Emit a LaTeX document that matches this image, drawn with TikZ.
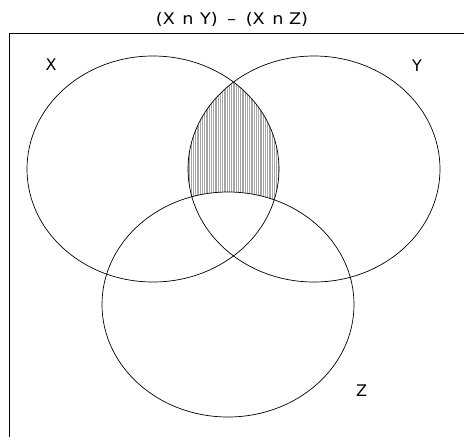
\documentclass[tikz,border=0pt]{standalone}
\usepackage{fontspec}
\setmainfont{DejaVu Sans}
\newfontfamily\titlefont[FakeStretch=1.1]{DejaVu Sans}
\begin{document}
\begin{tikzpicture}[x=1pt,y=-1pt,
  setline/.style={draw=black,line width=0.7pt},
  lbl/.style={font=\fontsize{16}{19}\selectfont,inner sep=0pt,anchor=base}]
\useasboundingbox (0,0) rectangle (464,437);
\fill[white] (0,0) rectangle (464,437);
% hatching of (X n Y) - Z
\begin{scope}
  \clip (153,169) ellipse [x radius=126, y radius=113];
  \clip (314,169) ellipse [x radius=126, y radius=113];
  \foreach \i in {186,187.8,...,282} {\draw[gray!70,line width=0.45pt] (\i,50) -- (\i,290);}
  \fill[white] (228,304.5) ellipse [x radius=126, y radius=112.5];
\end{scope}
% frame
\draw[line width=0.8pt] (9.5,437) -- (9.5,33) -- (464,33);
% sets
\draw[setline] (153,169) ellipse [x radius=126, y radius=113];
\draw[setline] (314,169) ellipse [x radius=126, y radius=113];
\draw[setline] (228,304.5) ellipse [x radius=126, y radius=112.5];
% labels
\node[lbl] (t) at (232,24.5) {\titlefont (X\hspace{2pt} n\hspace{1pt} Y)\hspace{4pt} –\hspace{4pt} (X\hspace{2pt} n Z)};
\node[lbl] (lx) at (51,70.7) {X};
\node[lbl] (ly) at (417,71) {Y};
\node[lbl] (lz) at (361.7,396) {Z};
\end{tikzpicture}
\end{document}
